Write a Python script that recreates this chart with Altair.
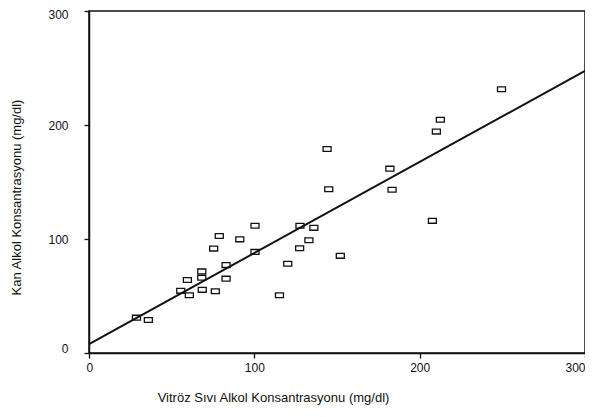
import altair as alt
import pandas as pd

# Vitröz sıvı (x) and kan (y) alkol konsantrasyonu, mg/dl
vitroz = [28.7, 35.9, 55.5, 60.7, 59.5, 68.2, 68.2, 68.5, 76.4, 82.9, 82.9,
          75.4, 78.8, 91.2, 100.4, 100.4, 115.2, 120.2, 127.4, 127.6, 133.0,
          136.0, 144.0, 145.0, 152.0, 182.0, 183.3, 207.7, 210.1, 212.5, 249.5]
kan = [31.0, 29.0, 54.5, 50.7, 64.1, 71.6, 66.1, 55.4, 54.2, 77.1, 65.2,
       91.6, 102.6, 99.7, 88.7, 111.6, 50.7, 78.3, 91.9, 111.6, 98.9,
       109.8, 178.9, 143.7, 85.2, 161.7, 143.2, 115.9, 194.2, 204.6, 231.3]

# Regression line endpoints
fit_x = [0, 300]
fit_y = [7.8, 247.5]

tick_values = [0, 100, 200, 300]

pts = pd.DataFrame({"x": vitroz, "y": kan})
fit = pd.DataFrame({"x": fit_x, "y": fit_y})

xscale = alt.Scale(domain=[0, 300], nice=False, zero=False)
yscale = alt.Scale(domain=[0, 300], nice=False, zero=False)

xaxis = alt.Axis(
    values=tick_values, grid=False, tickSize=5, labelPadding=4,
    title="Vitröz Sıvı Alkol Konsantrasyonu (mg/dl)",
    titleX=184, titleY=44, titleAlign="center", titleBaseline="middle",
    labelOffset={"condition": {"test": "datum.value == 0", "value": -3}, "value": 0},
)
yaxis = alt.Axis(
    values=tick_values, grid=False, tickSize=5, labelPadding=16,
    title="Kan Alkol Konsantrasyonu (mg/dl)",
    titleX=-73, titleY=186, titleAlign="center", titleBaseline="middle",
    labelOffset={"condition": [
        {"test": "datum.value == 0", "value": -5},
        {"test": "datum.value == 300", "value": 3},
    ], "value": 0},
)

rect_shape = "M-1,-0.6L1,-0.6L1,0.6L-1,0.6Z"

points = alt.Chart(pts).mark_point(
    shape=rect_shape, size=64, filled=False, color="#111", strokeWidth=1.3, opacity=1
).encode(
    x=alt.X("x:Q", scale=xscale, axis=xaxis),
    y=alt.Y("y:Q", scale=yscale, axis=yaxis),
)

line = alt.Chart(fit).mark_line(color="#111", strokeWidth=2).encode(
    x=alt.X("x:Q", scale=xscale, axis=xaxis),
    y=alt.Y("y:Q", scale=yscale, axis=yaxis),
)

chart = alt.layer(line, points).properties(
    width=496, height=342,
    autosize=alt.AutoSizeParams(type="none"),
    padding={"left": 81, "top": 3, "right": 0, "bottom": 64},
    background="white",
).configure_view(
    stroke="#111", strokeWidth=1.5
).configure_axis(
    domainColor="#111", domainWidth=1.5, tickColor="#111", tickWidth=1.3,
    labelFont="Liberation Sans", labelFontSize=12, labelColor="#111",
    titleFont="Liberation Sans", titleFontSize=13, titleFontWeight="normal",
    titleColor="#111",
)

chart.save("out.html", embed_options={"renderer": "svg", "actions": False})
